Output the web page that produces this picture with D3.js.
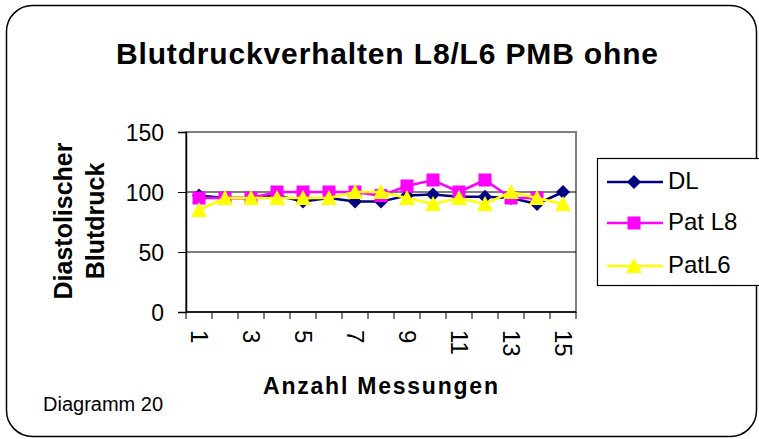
<!DOCTYPE html>
<meta charset="utf-8">
<style>
body { margin: 0; background: #fff; font-family: 'Liberation Sans', Arial, sans-serif; }
svg text { font-family: 'Liberation Sans', Arial, sans-serif; fill: #000; }
.axis text { font-size: 23px; }
</style>
<body>
<script src="https://cdnjs.cloudflare.com/ajax/libs/d3/7.8.5/d3.min.js"></script>
<script>
var messungen = d3.range(1, 16);
var tickLabels = [1, 3, 5, 7, 9, 11, 13, 15];
var yTicks = [0, 50, 100, 150];
var dl    = [97, 95, 95, 97, 92, 95, 92, 92, 97, 98, 96, 96, 95, 90, 100];
var patL8 = [95, 95, 95, 100, 100, 100, 100, 97, 105, 110, 100, 110, 95, 95, null];
var patL6 = [85, 95, 95, 95, 95, 95, 100, 100, 95, 90, 95, 90, 100, 95, 90];

var series = [
  {name: "DL", values: dl, color: "#000080", shape: "diamond"},
  {name: "Pat L8", values: patL8, color: "#ff00ff", shape: "square"},
  {name: "PatL6", values: patL6, color: "#ffff00", shape: "triangle"}
];

var W = 759, H = 439;
var svg = d3.select("body").append("svg").attr("width", W).attr("height", H);

// outer frame
svg.append("rect")
    .attr("x", 6.5).attr("y", 5.5).attr("width", 750).attr("height", 431)
    .attr("rx", 26).attr("ry", 26)
    .attr("fill", "#fff").attr("stroke", "#000").attr("stroke-width", 1.5);

var plot = {left: 186, right: 576, top: 132, bottom: 312};

var x = d3.scaleBand().domain(messungen).range([plot.left, plot.right]);
var y = d3.scaleLinear().domain([0, 150]).range([plot.bottom, plot.top]);

// plot border + gridlines
svg.append("rect")
    .attr("x", plot.left).attr("y", plot.top)
    .attr("width", plot.right - plot.left).attr("height", plot.bottom - plot.top)
    .attr("fill", "none").attr("stroke", "#808080").attr("stroke-width", 2);

svg.append("g").selectAll("line")
  .data([50, 100])
  .enter().append("line")
    .attr("x1", plot.left).attr("x2", plot.right)
    .attr("y1", function(d) { return y(d); }).attr("y2", function(d) { return y(d); })
    .attr("stroke", "#000").attr("stroke-width", 1.2);

// y axis
var yAxis = svg.append("g")
    .attr("class", "axis")
    .attr("transform", "translate(" + plot.left + ",0)")
    .call(d3.axisLeft(y).tickValues(yTicks).tickSize(8).tickPadding(14));
yAxis.selectAll("text").attr("dy", "0.36em");
yAxis.select("path").attr("stroke-width", 1.5);

// x axis: ticks between categories
var bounds = d3.range(0, 16).map(function(i) { return plot.left + i * x.bandwidth(); });
var xg = svg.append("g").attr("class", "axis");
xg.append("line")
    .attr("x1", plot.left).attr("x2", plot.right)
    .attr("y1", plot.bottom).attr("y2", plot.bottom)
    .attr("stroke", "#000").attr("stroke-width", 1.5);
xg.selectAll(".tk").data(bounds).enter().append("line")
    .attr("x1", function(d) { return d; }).attr("x2", function(d) { return d; })
    .attr("y1", plot.bottom).attr("y2", plot.bottom + 7)
    .attr("stroke", "#000");
xg.selectAll(".lbl").data(tickLabels).enter().append("text")
    .attr("transform", function(d) {
      return "translate(" + (x(d) + x.bandwidth() / 2 - 8) + "," + 330 + ") rotate(90)";
    })
    .attr("text-anchor", "start")
    .style("font-size", "24px")
    .text(function(d) { return d; });

// lines and markers
var line = d3.line()
    .defined(function(d) { return d != null; })
    .x(function(d, i) { return x(messungen[i]) + x.bandwidth() / 2; })
    .y(function(d) { return y(d); });

function marker(sel, shape, color) {
  if (shape === "diamond") {
    sel.append("path").attr("d", "M0,-7L7,0L0,7L-7,0Z").attr("fill", color);
  } else if (shape === "square") {
    sel.append("rect").attr("x", -6.5).attr("y", -6.5).attr("width", 13).attr("height", 13).attr("fill", color);
  } else {
    sel.append("path").attr("d", "M0,-8L8,7L-8,7Z").attr("fill", color);
  }
}

series.forEach(function(s) {
  svg.append("path")
      .attr("d", line(s.values))
      .attr("fill", "none")
      .attr("stroke", s.color)
      .attr("stroke-width", 2.5);
  s.values.forEach(function(v, i) {
    if (v == null) return;
    var g = svg.append("g")
        .attr("transform", "translate(" + (x(messungen[i]) + x.bandwidth() / 2) + "," + y(v) + ")");
    marker(g, s.shape, s.color);
  });
});

// title
svg.append("text")
    .attr("x", 116).attr("y", 64)
    .attr("textLength", 542).attr("lengthAdjust", "spacing")
    .style("font-size", "30px").style("font-weight", "bold")
    .text("Blutdruckverhalten L8/L6 PMB ohne");

// y title
var yt = svg.append("text")
    .attr("transform", "translate(0,221) rotate(-90)")
    .attr("text-anchor", "middle")
    .style("font-size", "25px").style("font-weight", "bold");
yt.append("tspan").attr("x", 0).attr("y", 72).text("Diastolischer");
yt.append("tspan").attr("x", 0).attr("y", 104).text("Blutdruck");

// x title
svg.append("text")
    .attr("x", 263).attr("y", 394)
    .attr("textLength", 235).attr("lengthAdjust", "spacing")
    .style("font-size", "23px").style("font-weight", "bold")
    .text("Anzahl Messungen");

svg.append("text")
    .attr("x", 43).attr("y", 411)
    .style("font-size", "20px")
    .text("Diagramm 20");

// legend
var lg = svg.append("g");
lg.append("rect")
    .attr("x", 597.5).attr("y", 158.5).attr("width", 170).attr("height", 127)
    .attr("fill", "#fff").attr("stroke", "#000").attr("stroke-width", 1.2);
var ly = [182, 223, 266];
series.forEach(function(s, i) {
  var row = lg.append("g").attr("transform", "translate(0," + ly[i] + ")");
  row.append("line").attr("x1", 607).attr("x2", 663).attr("y1", 0).attr("y2", 0)
      .attr("stroke", s.color).attr("stroke-width", 2.5);
  marker(row.append("g").attr("transform", "translate(634,0)"), s.shape, s.color);
  row.append("text").attr("x", 668).attr("y", 7)
      .style("font-size", "24px").text(s.name);
});
</script>
</body>
